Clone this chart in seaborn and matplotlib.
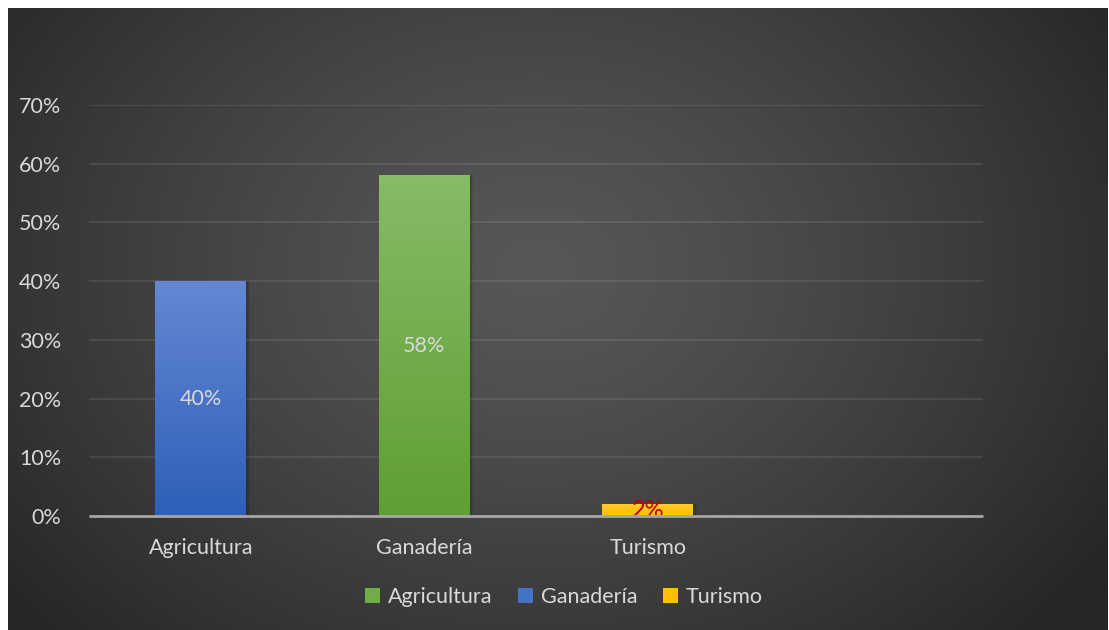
import numpy as np
import pandas as pd
import matplotlib
matplotlib.use("Agg")
import matplotlib.pyplot as plt
import seaborn as sns
from matplotlib.patches import Patch, Rectangle
from matplotlib.colors import LinearSegmentedColormap

# Data
categories = ["Agricultura", "Ganadería", "Turismo"]
values = [0.40, 0.58, 0.02]
bar_colors = ["#4472c4", "#70ad47", "#ffc000"]
bar_tops = ["#6488d2", "#86bb67", "#ffcb2a"]
bar_bottoms = ["#2f5fb9", "#5f9f32", "#ffbf00"]
label_colors = ["#d9d9d9", "#d9d9d9", "#c00000"]
legend_labels = ["Agricultura", "Ganadería", "Turismo"]
legend_colors = ["#70ad47", "#4472c4", "#ffc000"]
yticks = [0.0, 0.1, 0.2, 0.3, 0.4, 0.5, 0.6, 0.7]

sns.set_theme(style="dark")
plt.rcParams["font.family"] = ["Lato", "DejaVu Sans"]
FS = 15.5

W, H = 1109, 630
fig = plt.figure(figsize=(W / 100, H / 100), dpi=100, facecolor="white")

# Dark radial background panel
bg = fig.add_axes([8 / W, 0, (W - 9) / W, (H - 8) / H])
bg.set_axis_off()
ny, nx = 300, 540
yy, xx = np.mgrid[0:1:ny * 1j, 0:1:nx * 1j]
r = np.sqrt(((xx - 0.48) / 0.62) ** 2 + ((yy - 0.42) / 0.85) ** 2)
r = np.clip(r, 0, 1)
center_c, edge_c = 0x57 / 255, 0x26 / 255
grey = center_c + (edge_c - center_c) * r ** 1.3
img = np.dstack([grey, grey, grey])
bg.imshow(img, extent=[0, 1, 0, 1], aspect="auto", origin="upper")
bg.set_xlim(0, 1)
bg.set_ylim(0, 1)

# Plot area
ax = fig.add_axes([89 / W, 114 / H, (983 - 89) / W, (516 - 105) / H])
ax.patch.set_alpha(0)
df = pd.DataFrame({"cat": categories, "val": values})
sns.barplot(data=df, x="cat", y="val", hue="cat", palette=bar_colors,
            width=0.407, legend=False, ax=ax, zorder=3, saturation=1)

# Gradient fill and soft shadow for each bar
for i, p in enumerate(ax.patches):
    x0, y0 = p.get_x(), p.get_y()
    w, h = p.get_width(), p.get_height()
    for k in range(1, 5):
        ax.add_patch(Rectangle((x0 + 0.004 * k, y0), w, h, facecolor="black",
                               alpha=0.06, edgecolor="none", zorder=2))
    cmap = LinearSegmentedColormap.from_list("g", [bar_bottoms[i], bar_tops[i]])
    grad = np.linspace(0, 1, 100).reshape(-1, 1)
    im = ax.imshow(grad, cmap=cmap, extent=[x0, x0 + w, y0, y0 + h],
                   origin="lower", aspect="auto", zorder=3.5)
    im.set_clip_path(p)
    p.set_edgecolor("none")
ax.set_xlim(-0.5, 3.5)
ax.set_ylim(0, 0.7)
ax.set_aspect("auto")

# Value labels
for i, v in enumerate(values):
    ax.text(i, v / 2, f"{v * 100:.0f}%", ha="center", va="center",
            fontsize=FS + (1.5 if i == 2 else 0), color=label_colors[i], zorder=5)

# Axes styling
ax.set_yticks(yticks)
ax.set_yticklabels([f"{t * 100:.0f}%" for t in yticks])
ax.set_xticks(range(4))
ax.set_xticklabels(categories + [""])
ax.tick_params(axis="both", colors="#d9d9d9", labelsize=FS, length=0)
ax.tick_params(axis="y", pad=20)
ax.tick_params(axis="x", pad=16)
ax.set_xlabel("")
ax.set_ylabel("")
ax.grid(axis="y", color="white", alpha=0.09, linewidth=1.4, zorder=0)
ax.grid(axis="x", visible=False)
for s in ["top", "right", "left"]:
    ax.spines[s].set_visible(False)
ax.spines["bottom"].set_color("#a6a6a6")
ax.spines["bottom"].set_linewidth(2)
ax.spines["bottom"].set_capstyle("butt")
ax.spines["bottom"].set_zorder(6)

# Legend
handles = [Patch(facecolor=c, edgecolor="none") for c in legend_colors]
leg = fig.legend(handles, legend_labels, loc="center", ncol=3,
                 bbox_to_anchor=(564 / W, 1 - 597 / H), frameon=False,
                 fontsize=FS, handlelength=0.7, handleheight=0.7,
                 handletextpad=0.35, columnspacing=1.2)
for t in leg.get_texts():
    t.set_color("#d9d9d9")

fig.savefig("out.png", dpi=100, facecolor="white")
